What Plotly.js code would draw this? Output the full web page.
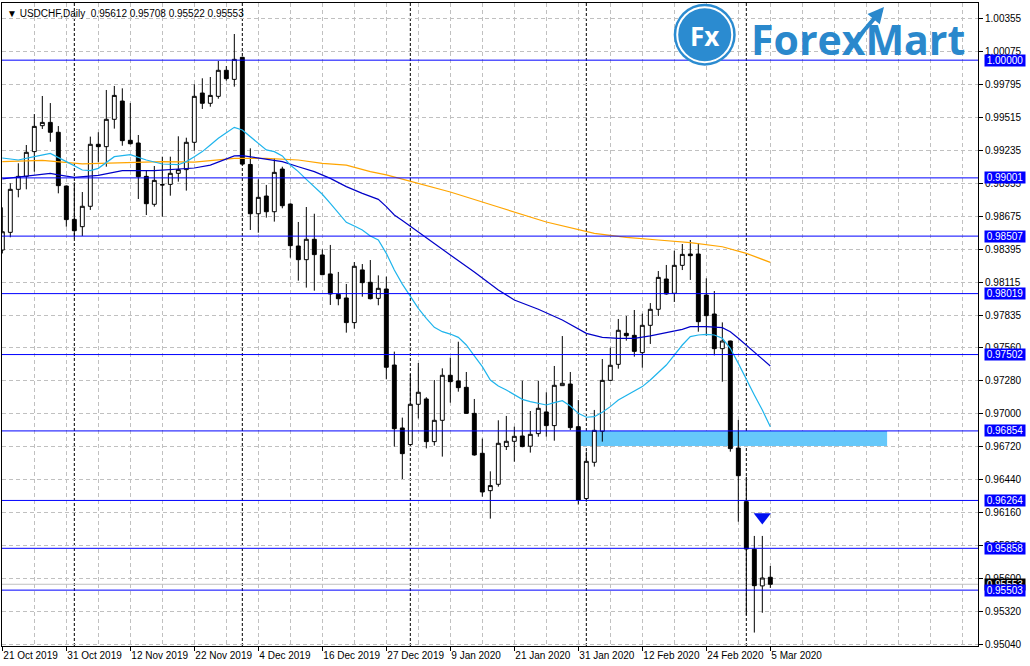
<!DOCTYPE html>
<html>
<head>
<meta charset="utf-8">
<script src="https://cdn.plot.ly/plotly-3.0.1.min.js"></script>
<style>html,body{margin:0;padding:0;background:#fff;}#chart{width:1030px;height:666px;}</style>
</head>
<body>
<div id="chart"></div>
<script>
// ---- Data ----
const symbolTitle = "USDCHF,Daily";
const lastOHLC = [0.95612, 0.95708, 0.95522, 0.95553];

const open = [0.98389,0.98539,0.98904,0.99014,0.99224,0.99444,0.99472,0.99388,0.98932,0.98649,
0.98587,0.98760,0.99286,0.99266,0.99498,0.99653,0.99320,0.99297,0.99014,0.98777,
0.98941,0.98946,0.99040,0.99071,0.99303,0.99721,0.99634,0.99693,0.99914,0.99837,
1.00024,0.99115,0.98697,0.98847,0.98714,0.99076,0.98779,0.98423,0.98307,0.98480,
0.98347,0.98186,0.98013,0.97982,0.97773,0.98220,0.98115,0.97979,0.98058,0.97413,
0.96879,0.96738,0.97080,0.97125,0.96763,0.96944,0.97326,0.97278,0.97224,0.97003,
0.96664,0.96347,0.96401,0.96721,0.96766,0.96811,0.96724,0.96831,0.97015,0.96899,
0.97238,0.97252,0.96890,0.96280,0.96588,0.96851,0.97283,0.97419,0.97682,0.97665,
0.97518,0.97750,0.97886,0.98143,0.98022,0.98259,0.98355,0.98355,0.98007,0.97846,
0.97552,0.97617,0.96709,0.96254,0.95850,0.95539,0.95612];
const high = [0.98751,0.98955,0.99125,0.99280,0.99543,0.99696,0.99636,0.99441,0.98935,0.98963,
0.98881,0.99351,0.99388,0.99747,0.99781,0.99761,0.99636,0.99365,0.99062,0.99102,
0.99181,0.99181,0.99354,0.99342,0.99795,0.99846,0.99857,0.99993,0.99950,1.00222,
1.00030,0.99252,0.98989,0.98941,0.99167,0.99096,0.98785,0.98627,0.98754,0.98697,
0.98395,0.98432,0.98203,0.98101,0.98287,0.98270,0.98304,0.98174,0.98163,0.97527,
0.96967,0.97337,0.97430,0.97140,0.97286,0.97385,0.97476,0.97611,0.97354,0.97125,
0.96789,0.96511,0.96944,0.96981,0.96890,0.97280,0.97023,0.97280,0.97182,0.97405,
0.97659,0.97354,0.97116,0.96678,0.97032,0.97464,0.97561,0.97804,0.97829,0.97880,
0.97849,0.97939,0.98211,0.98262,0.98383,0.98440,0.98474,0.98446,0.98149,0.98041,
0.97775,0.97620,0.96947,0.96464,0.95963,0.95963,0.95708];
const low = [0.98360,0.98497,0.98836,0.98904,0.99054,0.99416,0.99308,0.98870,0.98587,0.98488,
0.98508,0.98729,0.99133,0.99096,0.99419,0.99274,0.99285,0.98822,0.98686,0.98757,
0.98672,0.98850,0.98969,0.98893,0.99232,0.99586,0.99605,0.99673,0.99826,0.99775,
0.99110,0.98559,0.98536,0.98664,0.98630,0.98743,0.98324,0.98129,0.98070,0.98044,
0.98175,0.97923,0.97920,0.97688,0.97722,0.97993,0.97970,0.97920,0.97292,0.96721,
0.96446,0.96730,0.96960,0.96706,0.96729,0.96636,0.97094,0.97187,0.97000,0.96644,
0.96296,0.96110,0.96381,0.96692,0.96593,0.96715,0.96670,0.96805,0.96805,0.96771,
0.97236,0.96862,0.96229,0.96254,0.96551,0.96763,0.97280,0.97382,0.97620,0.97484,
0.97391,0.97592,0.97829,0.98010,0.97948,0.98219,0.98135,0.97696,0.97662,0.97495,
0.97272,0.96678,0.96084,0.95290,0.95143,0.95311,0.95522];
const close = [0.98544,0.98904,0.99014,0.99218,0.99438,0.99472,0.99388,0.98935,0.98647,0.98553,
0.98760,0.99286,0.99266,0.99498,0.99701,0.99317,0.99291,0.99011,0.98782,0.98980,
0.98943,0.99040,0.99071,0.99303,0.99693,0.99634,0.99701,0.99914,0.99843,1.00007,
0.99118,0.98697,0.98836,0.98714,0.99048,0.98765,0.98426,0.98307,0.98480,0.98350,
0.98180,0.98016,0.97976,0.97773,0.98251,0.98112,0.97976,0.98064,0.97394,0.96873,
0.96661,0.97080,0.97182,0.96763,0.96944,0.97326,0.97272,0.97221,0.97003,0.96650,
0.96336,0.96390,0.96749,0.96766,0.96808,0.96721,0.96825,0.97046,0.96899,0.97241,
0.97258,0.96882,0.96268,0.96596,0.96859,0.97283,0.97411,0.97708,0.97662,0.97529,
0.97750,0.97886,0.98157,0.98016,0.98259,0.98352,0.98341,0.97781,0.97832,0.97552,
0.97617,0.96704,0.96474,0.95852,0.95541,0.95606,0.95553];

// Tick labels every 8 bars (bar index of each label)
const tickBars = [0,8,16,24,32,40,48,56,64,72,80,88,96];
const tickLabels = ["21 Oct 2019","31 Oct 2019","12 Nov 2019","22 Nov 2019","4 Dec 2019","16 Dec 2019",
"27 Dec 2019","9 Jan 2020","21 Jan 2020","31 Jan 2020","12 Feb 2020","24 Feb 2020","5 Mar 2020"];
// Price-axis labels as printed on the chart
const yTickVals = [0.95040,0.95320,0.95600,0.95880,0.96160,0.96440,0.96720,0.97000,0.97280,0.97560,
0.97835,0.98115,0.98395,0.98675,0.98955,0.99235,0.99515,0.99795,1.00075,1.00355];

// Moving averages read at bar indices
const maFastX = [0,2,4,6,8,10,11,12,14,16,18,20,22,23,24,25,26,27,28,29,30,31,32,33,34,35,36,37,38,39,40,41,42,43,44,45,46,47,48,49,50,51,52,53,54,55,56,57,58,59,60,61,62,63,64,65,66,67,68,69,70,71,72,73,74,75,76,77,78,79,80,81,82,83,84,85,86,87,88,89,90,91,92,93,94,95,96];
const maFastY = [0.99170,0.99153,0.99181,0.99209,0.99139,0.99068,0.99062,0.99082,0.99181,0.99198,0.99153,0.99119,0.99113,0.99139,0.99180,0.99224,0.99280,0.99337,0.99385,0.99430,0.99407,0.99351,0.99300,0.99238,0.99224,0.99187,0.99110,0.99054,0.98989,0.98927,0.98862,0.98785,0.98706,0.98624,0.98593,0.98559,0.98508,0.98474,0.98361,0.98220,0.98100,0.98000,0.97894,0.97809,0.97733,0.97696,0.97676,0.97648,0.97583,0.97490,0.97399,0.97286,0.97235,0.97201,0.97159,0.97122,0.97102,0.97088,0.97074,0.97094,0.97111,0.97066,0.97003,0.96970,0.96975,0.97012,0.97060,0.97117,0.97153,0.97187,0.97230,0.97286,0.97348,0.97413,0.97498,0.97583,0.97654,0.97668,0.97674,0.97668,0.97640,0.97555,0.97427,0.97286,0.97159,0.97031,0.96890];
const maMidX = [0,2,4,6,7,9,12,14,15,19,23,24,26,28,29,30,31,33,35,37,39,41,43,45,47,48,49,50,53,56,59,62,64,67,70,72,73,75,77,79,81,83,85,86,88,90,91,92,93,94,95,96];
const maMidY = [0.98992,0.99006,0.99026,0.99040,0.99026,0.99006,0.99023,0.99045,0.99062,0.99062,0.99076,0.99085,0.99110,0.99158,0.99187,0.99190,0.99181,0.99158,0.99139,0.99096,0.99054,0.98997,0.98927,0.98870,0.98819,0.98757,0.98686,0.98640,0.98491,0.98347,0.98203,0.98050,0.97965,0.97886,0.97795,0.97724,0.97682,0.97648,0.97640,0.97640,0.97660,0.97688,0.97716,0.97739,0.97739,0.97730,0.97696,0.97640,0.97583,0.97527,0.97470,0.97405];
const maSlowX = [0,5,10,16,20,24,29,33,37,40,43,46,48,50,56,62,68,74,78,82,86,90,93,96];
const maSlowY = [0.99139,0.99150,0.99120,0.99133,0.99139,0.99135,0.99167,0.99167,0.99153,0.99125,0.99110,0.99054,0.99026,0.98990,0.98881,0.98754,0.98627,0.98530,0.98496,0.98474,0.98451,0.98417,0.98361,0.98284];

// Horizontal levels and other objects
const levels = [1.00000,0.99001,0.98507,0.98019,0.97502,0.96854,0.96264,0.95858,0.95503];
const separatorBars = [9,30,51,73,93];
const zoneBars = [72.3,110.6];
const zonePrices = [0.96726,0.96854];
const arrowBar = [95];
const arrowPrice = [0.96124];
const currentPrice = lastOHLC[3];

// ---- Build chart ----
const idx = open.map((_, i) => i);

const traces = [
  {type:'candlestick', x:idx, open:open, high:high, low:low, close:close,
   increasing:{line:{color:'#000000',width:1}, fillcolor:'#ffffff'},
   decreasing:{line:{color:'#000000',width:1}, fillcolor:'#000000'},
   whiskerwidth:0, hoverinfo:'skip', showlegend:false},
  {type:'scatter', mode:'lines', x:maSlowX, y:maSlowY, line:{color:'#FFA500',width:1.2}, hoverinfo:'skip', showlegend:false},
  {type:'scatter', mode:'lines', x:maMidX, y:maMidY, line:{color:'#0000C8',width:1.2}, hoverinfo:'skip', showlegend:false},
  {type:'scatter', mode:'lines', x:maFastX, y:maFastY, line:{color:'#1EB4EC',width:1.2}, hoverinfo:'skip', showlegend:false},
  {type:'scatter', mode:'markers', x:arrowBar, y:arrowPrice, marker:{symbol:'triangle-down', size:15, color:'#0010F0', line:{width:0}}, hoverinfo:'skip', showlegend:false}
];

const shapes = [];
shapes.push({type:'rect', xref:'x', yref:'y', x0:zoneBars[0], x1:zoneBars[1], y0:zonePrices[0], y1:zonePrices[1],
  fillcolor:'#66C8FA', line:{width:0}, layer:'between'});
separatorBars.forEach(b => shapes.push({type:'line', xref:'x', yref:'paper', x0:b, x1:b, y0:0, y1:1,
  line:{color:'#000000', width:1, dash:'3px,2px'}, layer:'between'}));
shapes.push({type:'line', xref:'paper', yref:'y', x0:0, x1:1, y0:currentPrice, y1:currentPrice,
  line:{color:'#C0C0C0', width:1}, layer:'between'});
levels.forEach(v => shapes.push({type:'line', xref:'paper', yref:'y', x0:0, x1:1, y0:v, y1:v,
  line:{color:'#0000FF', width:1}, layer:'above'}));
// logo circle
shapes.push({type:'circle', xref:'paper', yref:'paper', xsizemode:'pixel', ysizemode:'pixel',
  xanchor:0.7200, yanchor:0.9507, x0:-31, x1:31, y0:-31, y1:31, fillcolor:'#2B8BD0', line:{width:0}, layer:'above'});
shapes.push({type:'circle', xref:'paper', yref:'paper', xsizemode:'pixel', ysizemode:'pixel',
  xanchor:0.7200, yanchor:0.9507, x0:-27.5, x1:27.5, y0:-27.5, y1:27.5, fillcolor:'rgba(0,0,0,0)', line:{color:'#ffffff',width:2}, layer:'above'});

const nb = '\u00A0';
const lblFont = {family:'Liberation Sans, Arial, sans-serif', size:10, color:'#ffffff'};
const annotations = [];
annotations.push({xref:'paper', yref:'paper', x:0, y:1, xanchor:'left', yanchor:'top', xshift:3, yshift:-3,
  showarrow:false, text:'\u25BC' + nb + symbolTitle + nb + nb + lastOHLC.map(v=>v.toFixed(5)).join(nb),
  font:{family:'Liberation Sans, Arial, sans-serif', size:10, color:'#000000'}});
// current price label (black), then level labels (blue)
annotations.push({xref:'paper', yref:'y', x:1, y:currentPrice, xanchor:'left', yanchor:'middle', xshift:6,
  showarrow:false, text:currentPrice.toFixed(5), bgcolor:'#000000', borderpad:0, width:40, height:11, align:'center', font:lblFont});
levels.forEach(v => annotations.push({xref:'paper', yref:'y', x:1, y:v, xanchor:'left', yanchor:'middle', xshift:6,
  showarrow:false, text:v.toFixed(5), bgcolor:'#0000FF', borderpad:0, width:40, height:11, align:'center', font:lblFont}));
// logo texts
annotations.push({xref:'paper', yref:'paper', x:0.7200, y:0.9480, xanchor:'center', yanchor:'middle', showarrow:false,
  text:'<b>Fx</b>', font:{family:'Open Sans, sans-serif', size:26, color:'#ffffff'}});
annotations.push({xref:'paper', yref:'paper', x:0.7654, y:0.9440, xanchor:'left', yanchor:'middle', showarrow:false,
  text:'<b>ForexMart</b>', font:{family:'Open Sans, sans-serif', size:41, color:'#2A88CC'}});
annotations.push({xref:'paper', yref:'paper', x:0.9037, y:0.9938, ax:-34, ay:40, showarrow:true, text:'',
  arrowcolor:'#2A88CC', arrowwidth:4, arrowhead:2, arrowsize:0.8, standoff:0});

const axisFont = {family:'Liberation Sans, Arial, sans-serif', size:10, color:'#000000'};
const layout = {
  width:1030, height:666,
  margin:{l:2, r:52, t:3, b:20, pad:0},
  paper_bgcolor:'#ffffff', plot_bgcolor:'#ffffff',
  showlegend:false,
  xaxis:{type:'linear', range:[-0.04, 121.96], tickmode:'array', tickvals:tickBars, ticktext:tickLabels,
    tickangle:0, ticklabelposition:'outside right', ticks:'outside', ticklen:4, tickcolor:'#000000',
    showgrid:true, gridcolor:'#C0C0C0', griddash:'4px,3px', gridwidth:1,
    minor:{tickmode:'linear', tick0:0, dtick:4, showgrid:true, gridcolor:'#C0C0C0', griddash:'4px,3px', ticks:''},
    showline:true, linecolor:'#000000', linewidth:1, mirror:true, zeroline:false, automargin:false,
    rangeslider:{visible:false}, tickfont:axisFont, fixedrange:true},
  yaxis:{side:'right', range:[0.95029, 1.00485], tickmode:'array', tickvals:yTickVals,
    ticktext:yTickVals.map(v=>v.toFixed(5)),
    ticks:'outside', ticklen:4, tickcolor:'#000000',
    showgrid:true, gridcolor:'#C0C0C0', griddash:'4px,3px', gridwidth:1,
    showline:true, linecolor:'#000000', linewidth:1, mirror:true, zeroline:false, automargin:false,
    tickfont:axisFont, fixedrange:true},
  shapes:shapes,
  annotations:annotations
};

Plotly.newPlot('chart', traces, layout, {staticPlot:true, displayModeBar:false});
</script>
</body>
</html>
